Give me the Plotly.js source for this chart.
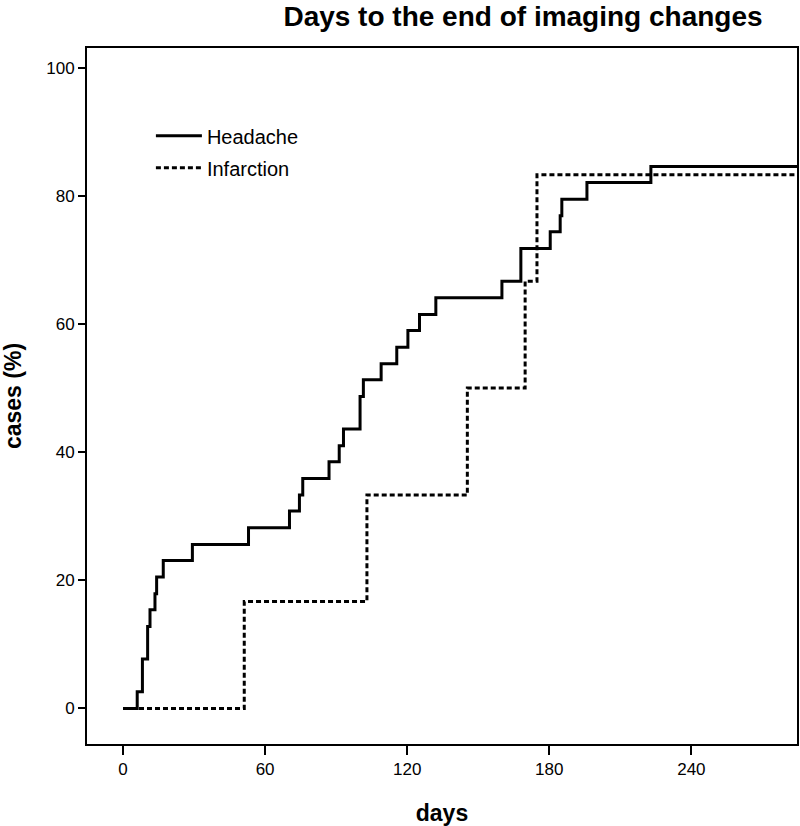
<!DOCTYPE html>
<html>
<head>
<meta charset="utf-8">
<script src="https://cdn.plot.ly/plotly-3.0.1.min.js"></script>
<style>html,body{margin:0;padding:0;background:#fff;}#chart{width:800px;height:826px;}</style>
</head>
<body>
<div id="chart"></div>
<script>
// Headache (cumulative % of cases with end of imaging changes)
const headacheDays = [0, 6.0, 8.2, 10.4, 11.4, 13.5, 14.2, 17.0, 29.3, 53.0, 70.3, 74.5, 75.9, 87.0, 91.3, 93.1, 100.1, 101.5, 109.0, 115.6, 120.3, 125.2, 132.1, 160.0, 168.0, 180.4, 184.6, 185.3, 195.9, 222.9, 284.6];
const headachePct  = [0, 2.6, 7.7, 12.8, 15.4, 17.9, 20.5, 23.1, 25.6, 28.2, 30.8, 33.3, 35.9, 38.5, 41.0, 43.6, 48.7, 51.3, 53.8, 56.4, 59.0, 61.5, 64.1, 66.7, 71.8, 74.4, 76.9, 79.5, 82.1, 84.6, 84.6];
// Infarction
const infarctionDays = [0, 51.2, 103.0, 145.4, 169.8, 174.8, 284.6];
const infarctionPct  = [0, 16.7, 33.3, 50.0, 66.7, 83.3, 83.3];
// Axis ticks
const xTicks = [0, 60, 120, 180, 240];
const yTicks = [0, 20, 40, 60, 80, 100];

const sans = '"Liberation Sans", Arial, sans-serif';

const traces = [
  {x: headacheDays, y: headachePct, name: 'Headache', type: 'scatter', mode: 'lines',
   line: {shape: 'hv', color: '#000', width: 3}, legendgroup: 'a'},
  {x: infarctionDays, y: infarctionPct, name: 'Infarction', type: 'scatter', mode: 'lines',
   line: {shape: 'hv', color: '#000', width: 3, dash: '5px,3px'}, legendgroup: 'b'}
];

const layout = {
  width: 800, height: 826,
  margin: {l: 87, r: 3, t: 48, b: 82},
  paper_bgcolor: '#fff', plot_bgcolor: '#fff',
  showlegend: true,
  title: {text: '<b>Days to the end of imaging changes</b>', x: 523/800, xanchor: 'center',
          y: 1 - 6/826, yanchor: 'top', yref: 'container',
          font: {family: sans, size: 28, color: '#000'}},
  xaxis: {range: [-15.2, 284.6], tickvals: xTicks, ticktext: xTicks.map(String),
          showgrid: false, zeroline: false, showline: true, linecolor: '#000', linewidth: 2, mirror: true,
          ticks: 'outside', ticklen: 9, tickwidth: 2, tickcolor: '#000',
          tickfont: {family: sans, size: 17, color: '#000'},
          title: {text: '<b>days</b>', font: {family: sans, size: 23, color: '#000'}, standoff: 26}},
  yaxis: {range: [-5.56, 103.1], tickvals: yTicks, ticktext: yTicks.map(String),
          showgrid: false, zeroline: false, showline: true, linecolor: '#000', linewidth: 2, mirror: true,
          ticks: 'outside', ticklen: 7, tickwidth: 2, tickcolor: '#000',
          tickfont: {family: sans, size: 17, color: '#000'},
          title: {text: '<b>cases (%)</b>', font: {family: sans, size: 23, color: '#000'}, standoff: 22}},
  legend: {x: 0.09, y: 0.902, xanchor: 'left', yanchor: 'top', bgcolor: 'rgba(0,0,0,0)',
           font: {family: sans, size: 20, color: '#000'},
           itemwidth: 46, tracegroupgap: 3}
};

Plotly.newPlot('chart', traces, layout, {displayModeBar: false, staticPlot: true});
</script>
</body>
</html>
